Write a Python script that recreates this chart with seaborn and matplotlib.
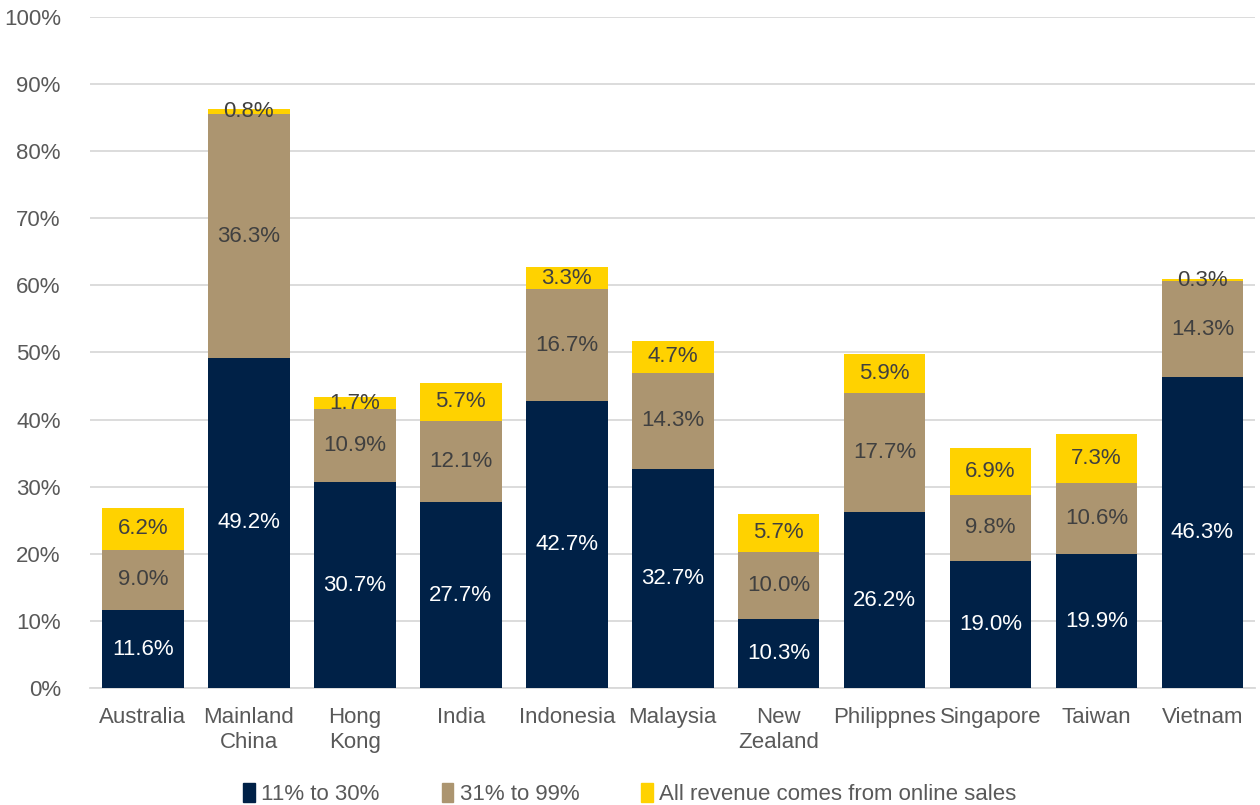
import numpy as np
import pandas as pd
import seaborn as sns
import matplotlib.pyplot as plt
from matplotlib.patches import Patch

countries = ["Australia", "Mainland\nChina", "Hong\nKong", "India", "Indonesia", "Malaysia",
             "New\nZealand", "Philippnes", "Singapore", "Taiwan", "Vietnam"]
low = [11.6, 49.2, 30.7, 27.7, 42.7, 32.7, 10.3, 26.2, 19.0, 19.9, 46.3]
mid = [9.0, 36.3, 10.9, 12.1, 16.7, 14.3, 10.0, 17.7, 9.8, 10.6, 14.3]
full = [6.2, 0.8, 1.7, 5.7, 3.3, 4.7, 5.7, 5.9, 6.9, 7.3, 0.3]

series = ["11% to 30%", "31% to 99%", "All revenue comes from online sales"]
colors = ["#002147", "#AC9570", "#FFD200"]
text_colors = ["white", "#404040", "#404040"]

sns.set_style("white")
plt.rcParams["font.family"] = ["Liberation Sans", "DejaVu Sans"]

fig = plt.figure(figsize=(12.6, 8.05), dpi=100)
ax = fig.add_axes([0.0714, 0.1453, 0.925, 0.8337])

df = pd.DataFrame({"country": countries, "low": low, "mid": mid, "full": full})
bottom = np.zeros(len(countries))
for col, name, c, tc in zip(["low", "mid", "full"], series, colors, text_colors):
    sns.barplot(data=df, x="country", y=col, color=c, width=0.77, bottom=bottom,
                ax=ax, label=name, saturation=1, linewidth=0, zorder=3)
    vals = df[col].values
    for i, v in enumerate(vals):
        ax.text(i, bottom[i] + v / 2, f"{v:.1f}%", ha="center", va="center",
                color=tc, fontsize=16, zorder=4)
    bottom = bottom + vals

ax.set_ylim(0, 100)
ax.set_xlim(-0.5, len(countries) - 0.5)
ax.set_yticks(range(0, 101, 10))
ax.set_yticklabels([f"{t}%" for t in range(0, 101, 10)])
ax.yaxis.grid(True, color="#D9D9D9", linewidth=1.3, zorder=0)
ax.set_xlabel("")
ax.set_ylabel("")
for s in ["top", "right", "left"]:
    ax.spines[s].set_visible(False)
ax.spines["bottom"].set_color("#D9D9D9")
ax.spines["bottom"].set_linewidth(1.3)
ax.tick_params(axis="both", colors="#595959", labelsize=16, length=0)
ax.tick_params(axis="y", pad=21)
ax.tick_params(axis="x", pad=14)

if ax.get_legend() is not None:
    ax.get_legend().remove()
handles = [Patch(color=c) for c in colors]
fig.legend(handles, series, loc="lower center", bbox_to_anchor=(0.5, -0.025),
           ncol=3, frameon=False, fontsize=16, labelcolor="#595959",
           handlelength=0.5, handleheight=0.9, handletextpad=0.3, columnspacing=2.8)

fig.savefig("out.png", dpi=100)
